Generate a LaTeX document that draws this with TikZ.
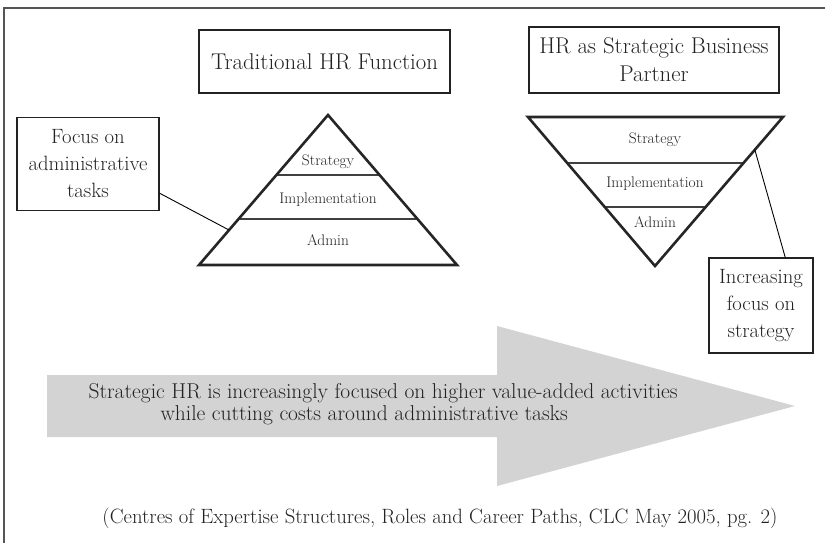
\documentclass[tikz,border=0pt]{standalone}
\usepackage{fontspec}
\usetikzlibrary{calc,positioning}
\definecolor{framegray}{HTML}{555555}
\definecolor{arrowgray}{HTML}{D3D3D3}
\definecolor{inkgray}{HTML}{222222}
\tikzset{
  labelbox/.style={draw=inkgray,line width=1.3pt,align=center,inner sep=0pt,
    text=inkgray,font=\fontsize{20.7}{27}\selectfont},
  titlebox/.style={labelbox,font=\fontsize{22.8}{28}\selectfont},
  tier/.style={text=inkgray,font=\fontsize{15.4}{19}\selectfont},
  pyramid/.style={draw=black!85,line width=2.6pt,line join=miter},
  tierline/.style={draw=black!75,line width=1.4pt},
  leader/.style={draw=black,line width=0.9pt}
}
\begin{document}
\begin{tikzpicture}[x=1pt,y=-1pt]
  \useasboundingbox (0,0) rectangle (825,543);
  % Frame
  \draw[framegray,line width=1.5pt] (4,543) -- (4,8) -- (825,8);

  % Headings
  \node[titlebox,minimum width=251,minimum height=63] (trad) at (324.5,61.5) {Traditional HR Function};
  \node[titlebox,minimum width=250,minimum height=66] (sbp) at (654,60) {HR as Strategic Business\\Partner};

  % Traditional pyramid
  \coordinate (tA) at (328,115);
  \coordinate (tL) at (199,265);
  \coordinate (tR) at (457,265);
  \draw[tierline] ($(tL)!0.6!(tA)$) -- ($(tR)!0.6!(tA)$);
  \draw[tierline] ($(tL)!0.3067!(tA)$) -- ($(tR)!0.3067!(tA)$);
  \draw[pyramid] (tA) -- (tL) -- (tR) -- cycle;
  \node[tier] (tstrat) at (328,162) {Strategy};
  \node[tier] (timpl) at (328,200) {Implementation};
  \node[tier] (tadmin) at (328,240) {Admin};

  % Strategic pyramid (inverted)
  \coordinate (sL) at (528,117);
  \coordinate (sR) at (783,117);
  \coordinate (sA) at (655,266);
  \draw[tierline] ($(sL)!0.309!(sA)$) -- ($(sR)!0.309!(sA)$);
  \draw[tierline] ($(sL)!0.604!(sA)$) -- ($(sR)!0.604!(sA)$);
  \draw[pyramid] (sL) -- (sR) -- (sA) -- cycle;
  \node[tier] (sstrat) at (655,140) {Strategy};
  \node[tier] (simpl) at (655,184) {Implementation};
  \node[tier] (sadmin) at (655,222) {Admin};

  % Callouts
  \node[labelbox,minimum width=142,minimum height=93] (focus) at (88,164) {Focus on\\administrative\\tasks};
  \node[labelbox,minimum width=104,minimum height=95] (incr) at (761,305.5) {Increasing\\focus on\\strategy};
  \draw[leader] ($(focus.north east)!0.81!(focus.south east)$) -- ($(tL)!0.233!(tA)$);
  \draw[leader] ($(incr.north west)!0.73!(incr.north east)$) -- ($(sR)!0.22!(sA)$);

  % Big arrow
  \fill[arrowgray] (47,375) -- (497,375) -- (497,326) -- (795,406) -- (497,486)
    -- (497,437) -- (47,437) -- cycle;
  \node[text=inkgray,align=left,anchor=west,font=\fontsize{21.5}{22}\selectfont] (msg) at (85,404)
    {Strategic HR is increasingly focused on higher value-added activities\\
     \hspace*{72pt}while cutting costs around administrative tasks};

  % Source
  \node[text=inkgray,font=\fontsize{20.7}{25}\selectfont] (src) at (440,518)
    {(Centres of Expertise Structures, Roles and Career Paths, CLC May 2005, pg. 2)};
\end{tikzpicture}
\end{document}
